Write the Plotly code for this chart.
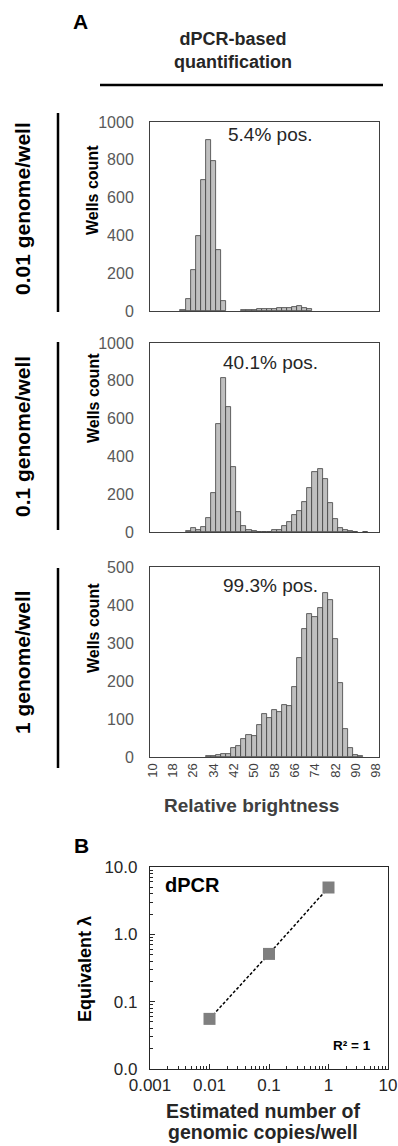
import plotly.graph_objects as go

# ---------------- data ----------------
bins = list(range(10, 100, 2))  # relative brightness bins 10..98

counts_001 = [None, None, None, None, None, None, 7, 63, 215, 395, 695, 907, 795, 325, 55,
              None, None, None, 3, 3, 4, 9, 13, 11, 12, 15, 18, 15, 22, 25, 17, 8,
              None, None, None, None, None, None, None, None, None, None, None, None, None]
counts_01 = [None, None, None, None, None, None, None, 7, 19, 12, 26, 74, 206, 573, 815, 661,
             342, 106, 33, 11, 7, 2, 1, 1, 9, 11, 30, 51, 92, 113, 159, 233, 316, 335, 280,
             153, 69, 21, 9, 3, 2, None, 2, None, None]
counts_1 = [None, None, None, None, None, None, None, None, None, None, None, 2, 3, 5, 8, 9,
            24, 28, 47, 58, 56, 83, 112, 102, 123, 119, 138, 134, 183, 260, 337, 376, 369,
            392, 431, 412, 310, 195, 75, 24, 4, 3, None, None, None]

pos_labels = ["5.4% pos.", "40.1% pos.", "99.3% pos."]
row_labels = ["0.01 genome/well", "0.1 genome/well", "1 genome/well"]

est_copies = [0.01, 0.1, 1]
equiv_lambda = [0.0555, 0.512, 4.96]

x_tickvals = list(range(10, 100, 8))
ylog_tickvals = [0.01, 0.1, 1, 10]
ylog_ticktext = ["0.0", "0.1", "1.0", "10.0"]
xlog_tickvals = [0.001, 0.01, 0.1, 1, 10]
xlog_ticktext = ["0.001", "0.01", "0.1", "1", "10"]

# ---------------- layout helpers ----------------
W, H = 398, 1146
FONT = "Liberation Sans, Arial, sans-serif"


def px(x):
    return x / W


def py(y):
    return 1 - y / H


fig = go.Figure()

BAR_FILL = "#BFBFBF"
BAR_LINE = "#404040"
TICK_GREY = "#595959"

panels = [
    (counts_001, 122, 311, 1000, 200),
    (counts_01, 343, 532, 1000, 200),
    (counts_1, 567, 757, 500, 100),
]

for i, (cnts, top, bot, ymax, dt) in enumerate(panels, start=1):
    xa = "x" if i == 1 else f"x{i}"
    ya = "y" if i == 1 else f"y{i}"
    fig.add_trace(go.Bar(x=bins, y=cnts, xaxis=xa, yaxis=ya,
                         marker=dict(color=BAR_FILL, line=dict(color=BAR_LINE, width=0.8)),
                         showlegend=False))
    xkey = "xaxis" if i == 1 else f"xaxis{i}"
    ykey = "yaxis" if i == 1 else f"yaxis{i}"
    fig.layout[xkey] = dict(domain=[px(150), px(378.5)], anchor=ya, range=[9, 99],
                            automargin=False,
                            showline=True, mirror=True, linecolor=BAR_LINE, linewidth=1,
                            showgrid=False, zeroline=False, ticks="",
                            showticklabels=(i == 3), tickmode="array", tickvals=x_tickvals,
                            tickangle=-90,
                            tickfont=dict(family=FONT, size=13, color="#404040"))
    fig.layout[ykey] = dict(domain=[py(bot), py(top)], anchor=xa, range=[0, ymax],
                            automargin=False,
                            showline=True, mirror=True, linecolor=BAR_LINE, linewidth=1,
                            showgrid=False, zeroline=False, ticks="",
                            tickmode="linear", tick0=0, dtick=dt,
                            ticklabelstandoff=12,
                            tickfont=dict(family=FONT, size=16, color=TICK_GREY))

# ---------------- panel B ----------------
fig.add_trace(go.Scatter(x=est_copies, y=equiv_lambda, xaxis="x4", yaxis="y4",
                         mode="lines", line=dict(color="black", width=1.5, dash="3px,2px"),
                         showlegend=False))
fig.add_trace(go.Scatter(x=est_copies, y=equiv_lambda, xaxis="x4", yaxis="y4",
                         mode="markers", marker=dict(symbol="square", size=12, color="#7F7F7F"),
                         showlegend=False))

fig.layout["xaxis4"] = dict(domain=[px(150), px(388)], anchor="y4", type="log", range=[-3, 1],
                            automargin=False,
                            showline=True, mirror=True, linecolor="#262626", linewidth=1.2,
                            showgrid=False, zeroline=False,
                            tickmode="array", tickvals=xlog_tickvals, ticktext=xlog_ticktext,
                            ticks="inside", ticklen=5, tickcolor="#262626",
                            minor=dict(ticks="inside", ticklen=3, dtick="D1", tickcolor="#262626", showgrid=False),
                            tickfont=dict(family=FONT, size=17, color="#262626"))
fig.layout["yaxis4"] = dict(domain=[py(1069), py(867)], anchor="x4", type="log", range=[-2, 1],
                            automargin=False,
                            showline=True, mirror=True, linecolor="#262626", linewidth=1.2,
                            showgrid=False, zeroline=False,
                            tickmode="array", tickvals=ylog_tickvals, ticktext=ylog_ticktext,
                            ticks="inside", ticklen=5, tickcolor="#262626",
                            minor=dict(ticks="inside", ticklen=3, dtick="D1", tickcolor="#262626", showgrid=False),
                            ticklabelstandoff=8,
                            tickfont=dict(family=FONT, size=17, color="#262626"))

# ---------------- annotations ----------------
ann = []


def add_text(text, x, y, size, bold=False, angle=0, color="black", xanchor="center", yanchor="middle"):
    t = f"<b>{text}</b>" if bold else text
    ann.append(dict(text=t, x=px(x), y=py(y), xref="paper", yref="paper", showarrow=False,
                    textangle=angle, xanchor=xanchor, yanchor=yanchor,
                    font=dict(family=FONT, size=size, color=color)))


add_text("A", 80, 21, 21, bold=True)
add_text("dPCR-based<br>quantification", 233, 50, 18, bold=True, color="#262626")

row_centers = [209, 437, 662]
wells_centers = [190, 398, 628]
pos_y = [135, 363, 585]
for k in range(3):
    add_text(row_labels[k], 22, row_centers[k], 21, bold=True, angle=-90)
    add_text("Wells count", 93, wells_centers[k], 16, bold=True, angle=-90)
    add_text(pos_labels[k], 270, pos_y[k], 19, color="#262626")

add_text("Relative brightness", 251, 805, 19, bold=True, color="#404040")
add_text("B", 81, 845, 21, bold=True)
add_text("dPCR", 163, 885, 20, bold=True, xanchor="left")
add_text("R² = 1", 373, 1045, 13.5, bold=True, xanchor="right")
add_text("Equivalent λ", 85, 969, 18, bold=True, angle=-90)
add_text("Estimated number of", 263, 1111, 19.5, bold=True, color="#262626")
add_text("genomic copies/well", 263, 1132, 19.5, bold=True, color="#262626")

shapes = [
    dict(type="line", xref="paper", yref="paper", x0=px(100), x1=px(383), y0=py(85), y1=py(85),
         line=dict(color="black", width=2.5)),
]
for (y0, y1) in [(113, 312), (342, 530), (568, 768)]:
    shapes.append(dict(type="line", xref="paper", yref="paper", x0=px(58), x1=px(58),
                       y0=py(y0), y1=py(y1), line=dict(color="black", width=2.5)))

fig.update_layout(width=W, height=H, margin=dict(l=0, r=0, t=0, b=0, autoexpand=False),
                  paper_bgcolor="white", plot_bgcolor="white",
                  bargap=0, annotations=ann, shapes=shapes,
                  font=dict(family=FONT))

fig.write_html("out.html")
